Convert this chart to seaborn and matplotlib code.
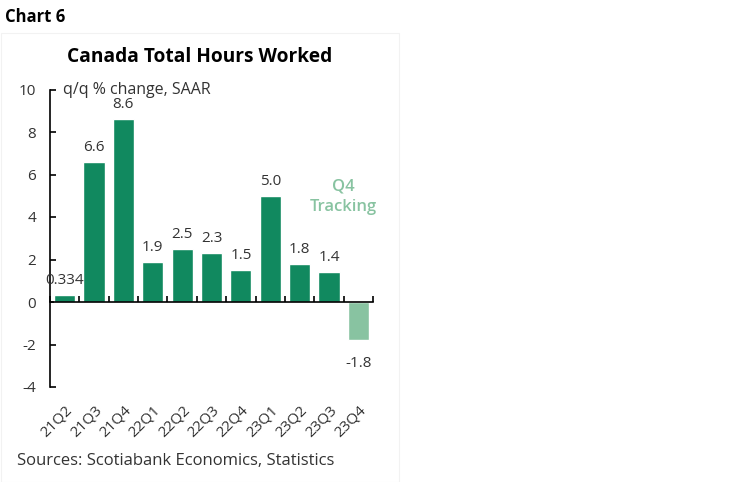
import matplotlib
matplotlib.use("Agg")
import matplotlib.pyplot as plt
import matplotlib.patches as mpatches
import seaborn as sns
import pandas as pd
import numpy as np

quarters = ["21Q2", "21Q3", "21Q4", "22Q1", "22Q2", "22Q3", "22Q4", "23Q1", "23Q2", "23Q3", "23Q4"]
values = [0.334, 6.6, 8.6, 1.9, 2.5, 2.3, 1.5, 5.0, 1.8, 1.4, -1.8]
value_labels = ["0.334", "6.6", "8.6", "1.9", "2.5", "2.3", "1.5", "5.0", "1.8", "1.4", "-1.8"]
status = ["Actual"] * 10 + ["Tracking"]
y_ticks = [-4, -2, 0, 2, 4, 6, 8, 10]

DARK = "#11895F"
LIGHT = "#88C3A1"
TEXT = "#333333"

sns.set_theme(style="white")
plt.rcParams["font.family"] = ["Open Sans", "DejaVu Sans"]

df = pd.DataFrame({"quarter": quarters, "value": values, "status": status})

fig = plt.figure(figsize=(7.5, 4.82), dpi=100)
ax = fig.add_axes([50 / 750, 1 - 387 / 482, 323 / 750, 297.5 / 482])

sns.barplot(data=df, x="quarter", y="value", hue="status",
            palette={"Actual": DARK, "Tracking": LIGHT},
            dodge=False, width=0.72, legend=False, ax=ax, saturation=1)

all_bars = []
for cont in ax.containers:
    for b in cont:
        all_bars.append(b)
all_bars = sorted(all_bars, key=lambda b: b.get_x())
for b, lab in zip(all_bars, value_labels):
    h = b.get_height()
    ax.annotate(lab, (b.get_x() + b.get_width() / 2, h),
                xytext=(0, 5 if h >= 0 else -11), textcoords="offset points",
                ha="center", va="bottom" if h >= 0 else "top",
                fontsize=11, color=TEXT)

ax.set_ylim(-4, 10)
ax.set_xlim(-0.5, len(quarters) - 0.5)
ax.set_yticks(y_ticks)
ax.set_yticklabels([str(t) for t in y_ticks])
ax.tick_params(axis="y", direction="in", length=4, width=1.2, pad=10,
               labelsize=11, labelcolor=TEXT, color="black", left=True)

ax.spines["bottom"].set_position(("data", 0))
ax.spines["bottom"].set_color("black")
ax.spines["bottom"].set_linewidth(1.2)
ax.spines["left"].set_color("black")
ax.spines["left"].set_linewidth(1.2)
ax.spines["top"].set_visible(False)
ax.spines["right"].set_visible(False)
ax.set_xticks(np.arange(len(quarters) + 1) - 0.5)
ax.set_xticklabels([])
ax.tick_params(axis="x", direction="in", length=4, width=1.2, color="black", bottom=True)
ax.set_xlabel("")
ax.set_ylabel("")

sec = ax.secondary_xaxis(0)
sec.set_xticks(np.arange(len(quarters)))
sec.set_xticklabels(quarters, rotation=45, ha="right", rotation_mode="anchor")
sec.tick_params(length=0, pad=11, labelsize=11, labelcolor=TEXT)
sec.spines["bottom"].set_visible(False)

ax.text(-0.05, 10, "q/q % change, SAAR", fontsize=11.5, color=TEXT, va="center", ha="left")
ax.text(9.5, 4.95, "Q4\nTracking", fontsize=12, color=LIGHT, fontweight="semibold",
        ha="center", va="center", linespacing=1.4)

fig.text(5 / 750, 1 - 17 / 482, "Chart 6", fontsize=12, fontweight="bold",
         color="black", va="center", ha="left")
fig.text(200 / 750, 1 - 57 / 482, "Canada Total Hours Worked", fontsize=13.8,
         fontweight="bold", color="black", va="center", ha="center")
fig.text(17 / 750, 1 - 461 / 482, "Sources: Scotiabank Economics, Statistics",
         fontsize=12, color=TEXT, va="center", ha="left")

fig.patches.append(mpatches.Rectangle((0.001, 0.001), 398 / 750, (482 - 33) / 482,
                                      transform=fig.transFigure, fill=False,
                                      edgecolor="#f2f2f2", linewidth=0.8))

fig.savefig("out.png", dpi=100)
